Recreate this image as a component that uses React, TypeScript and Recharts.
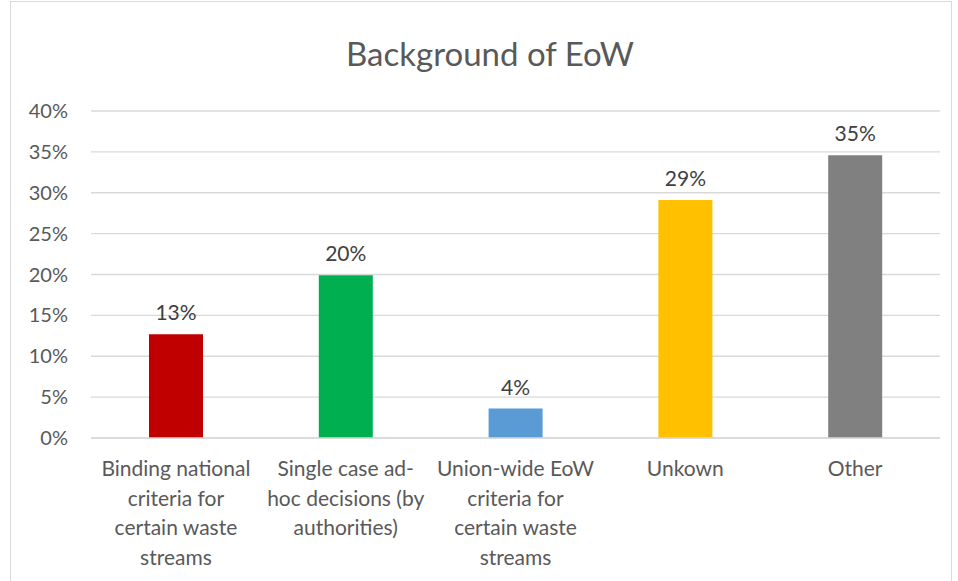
import { BarChart, Bar, XAxis, YAxis, CartesianGrid, LabelList, Cell } from "recharts";

const categories = [
  "Binding national\ncriteria for\ncertain waste\nstreams",
  "Single case ad-\nhoc decisions (by\nauthorities)",
  "Union-wide EoW\ncriteria for\ncertain waste\nstreams",
  "Unkown",
  "Other",
];
const shares = [12.7, 19.9, 3.6, 29.1, 34.6];
const barColors = ["#C00000", "#00B050", "#5B9BD5", "#FFC000", "#808080"];
const yTicks = [0, 5, 10, 15, 20, 25, 30, 35, 40];

const data = categories.map((name, i) => ({ name, value: shares[i] }));

const FONT = "Lato, 'Open Sans', sans-serif";
const GRID = "#d9d9d9";

function CategoryTick(props: any) {
  const { x, y, payload } = props;
  const lines = String(payload.value).split("\n");
  return (
    <g transform={`translate(${x},${y})`}>
      {lines.map((line, i) => (
        <text
          key={i}
          x={0}
          y={30 + i * 29.5}
          textAnchor="middle"
          fill="#595959"
          fontSize={21}
          fontFamily={FONT}
        >
          {line}
        </text>
      ))}
    </g>
  );
}

export default function App() {
  return (
    <div style={{ position: "absolute", left: 0, top: 0, width: 958, height: 581, background: "#fff", overflow: "hidden" }}>
      <div
        style={{
          position: "absolute",
          left: 10,
          top: 1,
          width: 940,
          height: 620,
          border: `1px solid ${GRID}`,
        }}
      />
      <div
        style={{
          position: "absolute",
          left: 0,
          top: 33,
          width: 980,
          textAlign: "center",
          fontFamily: FONT,
          fontSize: 33,
          color: "#595959",
        }}
      >
        Background of EoW
      </div>
      <div style={{ position: "absolute", left: 0, top: 0 }}>
        <BarChart
          width={958}
          height={581}
          data={data}
          margin={{ top: 111, right: 18, bottom: 13, left: 0 }}
        >
          <CartesianGrid vertical={false} stroke={GRID} strokeWidth={1.3} />
          <XAxis
            dataKey="name"
            interval={0}
            tickLine={false}
            axisLine={{ stroke: GRID, strokeWidth: 1.3 }}
            tick={<CategoryTick />}
            height={130}
          />
          <YAxis
            domain={[0, 40]}
            ticks={yTicks}
            width={91}
            axisLine={false}
            tickLine={false}
            tickMargin={17}
            tickFormatter={(v) => `${v}%`}
            tick={{ fill: "#595959", fontSize: 20, fontFamily: FONT }}
          />
          <Bar dataKey="value" barSize={54} isAnimationActive={false}>
            {data.map((d, i) => (
              <Cell key={d.name} fill={barColors[i]} />
            ))}
            <LabelList
              dataKey="value"
              position="top"
              offset={14}
              formatter={(v: any) => `${Math.round(Number(v))}%`}
              fill="#404040"
              fontSize={21}
              fontFamily={FONT}
            />
          </Bar>
        </BarChart>
      </div>
    </div>
  );
}
